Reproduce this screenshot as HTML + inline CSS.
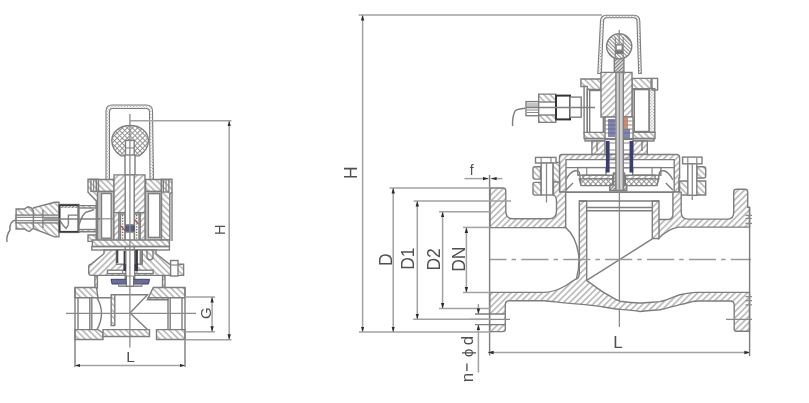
<!DOCTYPE html>
<html><head><meta charset="utf-8">
<style>
html,body{margin:0;padding:0;background:#fff;}
svg{display:block;will-change:transform;}
.o{stroke:#7e7e7e;stroke-width:1.4;fill:none;}
.of{stroke:#7e7e7e;stroke-width:1.4;}
.t{stroke:#8a8a8a;stroke-width:1.2;fill:none;}
.d{stroke:#a2a2a2;stroke-width:1.5;fill:none;}
.c{stroke:#8a8a8a;stroke-width:1.3;fill:none;}
.cd{stroke:#9a9a9a;stroke-width:1.5;fill:none;stroke-dasharray:27.2 5 4.5 5.2;stroke-dashoffset:10.6;}
text{font-family:"Liberation Sans",sans-serif;fill:#505050;}
</style></head>
<body>
<svg width="809" height="403" viewBox="0 0 809 403">
<defs>
<pattern id="hf" patternUnits="userSpaceOnUse" width="4.4" height="4.4" patternTransform="rotate(45)">
<rect width="4.4" height="4.4" fill="#fff"/><line x1="0.8" y1="0" x2="0.8" y2="4.4" stroke="#adadad" stroke-width="1.4"/></pattern>
<pattern id="hb" patternUnits="userSpaceOnUse" width="4.4" height="4.4" patternTransform="rotate(-45)">
<rect width="4.4" height="4.4" fill="#fff"/><line x1="0.8" y1="0" x2="0.8" y2="4.4" stroke="#adadad" stroke-width="1.4"/></pattern>
<pattern id="hx" patternUnits="userSpaceOnUse" width="3.6" height="3.6" patternTransform="rotate(45)">
<rect width="3.6" height="3.6" fill="#fff"/><line x1="0.5" y1="0" x2="0.5" y2="3.6" stroke="#8a8a8a" stroke-width="0.9"/><line x1="0" y1="0.5" x2="3.6" y2="0.5" stroke="#8a8a8a" stroke-width="0.9"/></pattern>
<pattern id="hd" patternUnits="userSpaceOnUse" width="2.2" height="2.2" patternTransform="rotate(45)">
<rect width="2.2" height="2.2" fill="#fff"/><rect x="0" y="0" width="1.1" height="1.1" fill="#999"/></pattern>
<pattern id="hs" patternUnits="userSpaceOnUse" width="2.5" height="2.5" patternTransform="rotate(45)">
<rect width="2.5" height="2.5" fill="#ddd"/><line x1="0.5" y1="0" x2="0.5" y2="2.5" stroke="#666" stroke-width="0.8"/></pattern>
<marker id="ah" viewBox="0 0 10 10" refX="10" refY="5" markerWidth="5.6" markerHeight="5.6" orient="auto-start-reverse" markerUnits="userSpaceOnUse">
<path d="M0,2 L10,5 L0,8 z" fill="#2a2a2a"/></marker>
<pattern id="hk" patternUnits="userSpaceOnUse" width="2.6" height="2.6" patternTransform="rotate(-45)">
<rect width="2.6" height="2.6" fill="#fff"/><line x1="0.5" y1="0" x2="0.5" y2="2.6" stroke="#888" stroke-width="1"/></pattern>
</defs>
<rect width="809" height="403" fill="#fff"/>
<g>

<!-- ================= LEFT VALVE ================= -->
<g id="lv">
<!-- hood -->
<path stroke="#7c7c7c" stroke-width="1.1" fill="url(#hd)" d="M106,180 L106,111 Q106,105 112,105 L146.5,105 Q152.5,105 152.5,111 L153.5,180 L150,180 L149.5,112 Q149.5,108.5 146,108.5 L112.5,108.5 Q109.5,108.5 109.5,112 L109.5,180 Z"/>
<!-- knob -->
<path class="of" fill="url(#hx)" d="M121.1,155.9 C115,152 111.8,146.5 111.8,140.5 C111.8,132 120,125.5 130.1,125.5 C140.2,125.5 148.4,132 148.4,140.5 C148.4,146.5 145,152 139.1,155.9 Z"/>
<rect class="of" fill="#fff" x="125.5" y="140.4" width="8.7" height="15.5"/>
<line class="t" x1="125.5" y1="147.9" x2="134.2" y2="147.9"/>
<!-- H extension & centre line -->
<line class="d" x1="130" y1="120.8" x2="231.5" y2="120.8"/>
<!-- stem -->
<rect class="of" fill="#fff" x="125" y="155" width="10" height="22"/>

<!-- housing -->
<path class="of" fill="url(#hb)" d="M88,179.3 H98.5 V192.2 L100,194 V241 H96.3 V201 L88,192.2 Z"/>
<path class="of" fill="url(#hb)" d="M98.5,179.5 H114 V191.5 H98.5 Z M145.6,179.5 H161.4 V191.5 H145.6 Z"/>
<path class="of" fill="url(#hb)" d="M161.4,179.3 H172 V192 L169.8,194 V240 H161.4 Z"/>
<line class="o" x1="172" y1="192" x2="172" y2="241"/>
<path class="of" fill="url(#hb)" d="M88,235 H96.3 V241.4 H88 Z"/>
<!-- coil cans -->
<rect class="of" fill="#c6c6c6" x="97.5" y="191.5" width="16.5" height="49.5"/>
<rect class="of" fill="#c6c6c6" x="145.2" y="191.5" width="16.2" height="49.5"/>
<!-- coils -->
<rect class="of" fill="#fff" x="101.5" y="193.5" width="9.7" height="44.7"/>
<rect class="of" fill="#fff" x="148.4" y="193.6" width="11.4" height="43.8"/>
<line class="t" x1="96" y1="218.8" x2="113" y2="218.8"/>
<!-- bolts -->
<rect class="o" fill="#fff" x="90.9" y="179.5" width="5.4" height="11.9"/>
<rect class="o" fill="#fff" x="163.3" y="179.7" width="5.6" height="12.3"/>
<line class="t" x1="93.6" y1="179.5" x2="93.6" y2="191.4"/>
<line class="t" x1="166.1" y1="179.7" x2="166.1" y2="192"/>
<!-- core -->
<path class="of" fill="url(#hf)" d="M114,174.9 H145 V212.6 H114 Z"/>
<!-- plunger tube -->
<path class="of" fill="url(#hf)" d="M113.9,212.6 H119.1 V241 H113.9 Z M140,212.6 H145 V241 H140 Z"/>
<rect class="of" fill="#fff" x="119.1" y="212.6" width="20.9" height="29"/>
<rect class="o" fill="url(#hs)" x="120.5" y="214" width="4.5" height="27"/>
<path stroke="#555" stroke-width="1.2" stroke-dasharray="1.2 1.6" d="M122.7,215 V241 M136.7,215 V241"/>
<rect class="o" fill="url(#hs)" x="134.5" y="214" width="4.5" height="27"/>
<rect x="125.8" y="224.6" width="8.2" height="7.4" fill="#5a5f8a" stroke="#333" stroke-width="0.6"/>
<path d="M134,219 L138.5,224 M121,226 L125.5,231" stroke="#b05050" stroke-width="1.2" fill="none"/>
<!-- stem full -->
<rect class="of" fill="#fff" x="125.2" y="174.9" width="9" height="50"/>
<rect class="of" fill="#fff" x="125.2" y="232" width="9" height="48"/>
<!-- bottom plate -->
<path class="of" fill="url(#hb)" d="M92.4,240 H169.4 V246.5 H92.4 Z"/>
<rect class="o" fill="#fff" x="91.8" y="246.5" width="77.6" height="3.5"/>
<!-- bonnet upper block -->
<path class="of" fill="url(#hf)" d="M104,250 H130 V275.4 H91.5 Q88.7,275.4 88.7,272.5 V267 Q88.7,264.2 91,264.2 L104,253.7 Z"/>
<path class="of" fill="url(#hb)" d="M130,250 H156 V253.7 L169.7,264.2 H183.6 V275.4 H130 Z"/>
<rect class="of" fill="#fff" x="116.4" y="250" width="25.9" height="14.2"/>
<rect x="116.4" y="250" width="1.9" height="13" fill="#444" stroke="none"/>
<rect x="123.6" y="251" width="2.2" height="20" fill="#3a3a44" stroke="none"/>
<rect x="134.7" y="250" width="3.2" height="21" fill="#3a3a44" stroke="none"/>
<rect x="139.6" y="250" width="2.7" height="14" fill="#888" stroke="none"/>
<path class="o" stroke-width="1.1" d="M147,250.5 V258 Q150,262 153,258 V250.5"/>
<!-- bonnet lower flange -->

<rect class="of" fill="#fff" x="107.5" y="270.2" width="45.7" height="3.4"/>
<line class="t" x1="122.6" y1="269.9" x2="122.6" y2="273.5"/>
<line class="t" x1="136.9" y1="269.9" x2="136.9" y2="273.5"/>
<rect class="of" fill="#fff" x="170.6" y="260.5" width="7.4" height="15.5"/>
<line class="t" x1="170.6" y1="265" x2="178" y2="265"/>
<rect class="of" fill="#fff" x="125.8" y="250" width="8.9" height="28"/>
<rect x="123.6" y="264" width="2.2" height="7" fill="#3a3a44" stroke="none"/>
<rect x="134.7" y="264" width="3.2" height="7" fill="#3a3a44" stroke="none"/>
<!-- neck -->
<path class="of" fill="url(#hf)" d="M94.9,276 H97.4 V288 H94.9 Z M162.5,276 H165 V288 H162.5 Z"/>
<!-- disc -->
<path d="M111,279.3 H149.5 L148.5,284 H112 Z" fill="#6a6d96" stroke="#3e4170" stroke-width="1"/>
<path d="M118.5,284 H142.1 V286.5 H118.5 Z" fill="#b4b4be" stroke="#777" stroke-width="0.8"/>
<rect x="126.5" y="276" width="7" height="10" fill="#fff" stroke="#555" stroke-width="0.7"/>

<!-- body -->
<path class="of" fill="url(#hb)" d="M75,287.5 H96.5 L98,297.8 H75 Z"/>
<path class="of" fill="url(#hb)" d="M153.3,287.5 H185 V297.8 H168 V299.8 H147.4 Z"/>
<path class="of" fill="url(#hb)" d="M75,329.6 H98 L103,333 V339.5 H75 Z"/>
<path class="of" fill="url(#hb)" d="M103,329.6 H149.5 V336.5 H103 Z"/>
<path class="of" fill="url(#hb)" d="M156.5,329.6 H185 V339.5 H156.5 Z"/>
<path class="of" fill="url(#hb)" d="M111.2,294.8 H114.8 V325.6 H111.2 Z"/>
<path class="o" d="M75,287.5 V367 M185,287.5 V367"/>
<path class="o" d="M78,297.8 V329.6 M89.8,297.8 V329.6 M91.8,297.8 V329.6"/>
<path class="o" d="M168,297.8 V329.6 M170.2,297.8 V329.6 M182,297.8 V329.6"/>
<path class="o" d="M97,297.8 Q106,313 97,329.6"/>
<path class="o" d="M114.8,294.8 H147.5 L130,313 L147.5,329.6"/>
<path class="o" d="M98,297.8 H111.2 M147.5,297.8 H168"/>

<!-- centre lines -->
<line class="c" x1="66" y1="313.3" x2="196" y2="313.3"/>
<line class="c" x1="129.9" y1="114" x2="129.9" y2="347.5"/>

<!-- connector -->
<path class="of" fill="url(#hb)" d="M16.1,209 H24.5 L27.9,206.7 L31,207.5 L32.3,210 L33.4,207.8 L54.6,202.3 H59 V236.9 H54.6 L33.4,228.5 L32.3,229 L29.5,231.5 L27,230.7 L24.5,229 H16.1 Z"/>
<rect class="of" fill="#fff" x="16.1" y="215.1" width="42.8" height="7.8"/>
<path class="t" d="M16.1,217.3 H59 M16.1,220.7 H59"/>
<path class="o" d="M42.9,210 V228 M33.4,210 V228"/>
<rect class="of" fill="#fff" x="59" y="204.5" width="20" height="27.9"/>
<path fill="url(#hs)" stroke="none" d="M60.5,205 H77.5 V208 H60.5 Z"/>
<rect x="59.7" y="205.2" width="18.6" height="26.5" fill="none" stroke="#3a3a3a" stroke-width="1.6"/>
<path class="of" fill="url(#hb)" d="M79,205.6 H96.3 V231.8 H79 Z"/>
<rect class="of" fill="#fff" x="79" y="208" width="17.3" height="21.5"/>
<path class="o" d="M68.4,224.6 V215.1 H79 M60,220.7 Q63,226 66.2,228.5 L68.4,224.6"/>
<path class="o" d="M79,225 Q83,212 87.4,211.7 Q91,211 94,209.5"/>
<line class="o" x1="44" y1="219" x2="100" y2="219"/>
<path class="o" d="M16.5,219.8 Q9,221 10,230 Q6,236 7,242"/>

<!-- dims -->
<line class="d" x1="229.2" y1="120.8" x2="229.2" y2="339.8" marker-start="url(#ah)" marker-end="url(#ah)"/>
<line class="d" x1="185" y1="339.8" x2="231.5" y2="339.8"/>
<line class="d" x1="185" y1="297" x2="215" y2="297"/>
<line class="d" x1="185" y1="331.8" x2="215" y2="331.8"/>
<line class="d" x1="212.1" y1="297" x2="212.1" y2="331.8" marker-start="url(#ah)" marker-end="url(#ah)"/>
<line class="d" x1="74.7" y1="365.5" x2="185.4" y2="365.5" marker-start="url(#ah)" marker-end="url(#ah)"/>
<text transform="translate(225.4,229.8) rotate(-90)" font-size="14.5" text-anchor="middle">H</text>
<text transform="translate(211.2,313.2) rotate(-90)" font-size="15" text-anchor="middle">G</text>
<text x="130.5" y="362" font-size="15.5" text-anchor="middle">L</text>
</g>

<!-- ================= RIGHT VALVE ================= -->
<g id="rv">
<!-- hood -->
<path stroke="#7c7c7c" stroke-width="1.1" fill="url(#hd)" d="M597.8,73.5 L600.5,21 Q601,15.2 606,15.2 L634,15.2 Q639.5,15.2 639.8,21 L641.3,73.5 L638.7,73.5 L637,21.5 Q637,17.8 633.5,17.8 L607,17.8 Q603.6,17.8 603.5,21.5 L601.3,73.5 Z"/>
<line class="d" x1="358.6" y1="15" x2="602" y2="15"/>
<!-- stem upper -->
<rect class="of" fill="url(#hs)" x="614.3" y="50" width="9.6" height="25"/>
<circle class="of" fill="url(#hk)" cx="619.2" cy="46.3" r="12.6"/>
<path class="t" d="M615.3,37 V59 M623.2,37 V59"/>
<rect x="615.3" y="50.8" width="7.9" height="3.1" fill="#777" stroke="none"/>
<rect class="of" stroke-width="1" fill="#fff" x="616.1" y="44.8" width="6.2" height="5.4"/>
<line class="c" x1="619.2" y1="30" x2="619.2" y2="45"/>

<!-- housing -->
<path class="of" fill="url(#hb)" d="M580.9,79 H601 V89.5 H587.3 L584.1,86.5 H580.9 Z"/>
<path class="of" fill="url(#hb)" d="M632,78.4 H651.1 V88.6 H632 Z"/>
<rect class="of" fill="#fff" x="584.1" y="86.5" width="3.2" height="46.7"/>
<rect class="of" fill="#fff" x="587.3" y="89.5" width="2.4" height="43.7"/>
<rect class="of" fill="#fff" x="589.7" y="90.5" width="13.8" height="42.7"/>
<rect class="of" fill="#fff" x="634.3" y="89.6" width="14.9" height="41.9"/>
<rect class="of" fill="url(#hd)" x="649.2" y="88.6" width="5.6" height="43.8"/>
<rect class="of" fill="#d4d4d4" x="603.5" y="89.5" width="2" height="43"/>
<rect class="of" fill="#d4d4d4" x="632" y="89.5" width="2.3" height="43"/>
<rect class="o" fill="#fff" x="652" y="78.4" width="5.6" height="11.6"/>
<path class="of" fill="url(#hb)" d="M584.1,132.4 H655 V138.5 H584.1 Z"/>
<!-- core -->
<path class="of" fill="url(#hf)" d="M601,72.4 H632 V117 H601 Z"/>
<!-- plunger -->
<rect class="of" fill="#fff" x="605" y="117" width="28" height="22"/>
<path class="t" d="M605,121 H633 M605,125 H633 M605,129 H633 M605,133 H633"/>
<rect x="621" y="117" width="7" height="12" fill="#c47a5a" stroke="none" opacity="0.85"/>
<rect x="608" y="119" width="7" height="18" fill="#5a5e96" stroke="none" opacity="0.75"/>
<rect x="624" y="129" width="6" height="10" fill="#5a5e96" stroke="none" opacity="0.75"/>
<!-- neck -->
<rect class="of" fill="#d8d8d8" x="585" y="138.6" width="69" height="2.4"/>
<path class="of" fill="url(#hf)" d="M591.9,141 H647.3 V154.5 H591.9 Z"/>
<rect class="of" fill="#fff" x="605" y="139.4" width="28" height="34"/>
<path class="t" d="M609.6,143 H629.5 M609.6,150 H629.5 M609.6,154 H629.5"/>

<!-- bonnet -->
<path class="of" fill="url(#hf)" d="M562,154.5 H676.5 Q679.6,154.5 679.6,157.5 V178 H678.9 V192.1 H559.5 V157 Q559.5,154.5 562,154.5 Z"/>
<path class="of" fill="#fff" d="M566,159.6 H674.2 V192.1 H566 Z"/>
<line class="o" x1="566" y1="167.6" x2="674.2" y2="167.6"/>
<!-- diaphragm -->
<rect class="of" fill="#fff" x="577.8" y="167.6" width="28.2" height="7.6"/>
<rect class="of" fill="#fff" x="632.7" y="167.6" width="28.2" height="7.6"/>
<line class="t" x1="586.7" y1="167.6" x2="586.7" y2="175.2"/>
<line class="t" x1="652.1" y1="167.6" x2="652.1" y2="175.2"/>
<path class="of" fill="url(#hf)" d="M583,175.2 H612.7 V178.9 H583 Z M625.3,175.2 H655 V178.9 H625.3 Z"/>
<path class="of" fill="url(#hx)" d="M579.3,178.9 H612.7 V185.6 H581 Z M625.3,178.9 H658.7 L657,185.6 H625.3 Z"/>
<path class="o" d="M566,179.7 Q570,172 574.8,170.8 Q578.5,170.5 579.3,172.3 L580.8,181.9"/>
<path class="o" d="M672.8,179.7 Q668.8,172 664,170.8 Q660.3,170.5 659.5,172.3 L658,181.9"/>
<path class="o" d="M566,190 L573,183 M672.8,190 L665.8,183"/>
<!-- central guide -->
<rect x="605.9" y="141" width="3.7" height="31.5" fill="#3a3d6e" stroke="none"/>
<rect x="629.5" y="141" width="3.7" height="31.5" fill="#3a3d6e" stroke="none"/>
<path class="t" d="M609.6,158 H629.5 M609.6,163 H629.5 M609.6,168 H629.5"/>
<path class="o" d="M597,141 V151 M642,141 V151"/>
<path class="of" fill="url(#hs)" d="M609.7,185 H613.4 V173 H624.5 V185 H626.8 V190.5 H609.7 Z"/>
<line class="o" x1="559.5" y1="192.1" x2="680" y2="192.1"/>
<!-- stem -->
<rect class="of" fill="#d0d0d0" x="615.9" y="72.4" width="7.4" height="118"/>
<line class="c" x1="619.4" y1="72" x2="619.4" y2="327"/>

<!-- bolts left -->
<path class="of" fill="url(#hb)" d="M535,166.7 H540.5 V179.1 H535 Q533,179.1 533,177 V168.7 Q533,166.7 535,166.7 Z"/>
<path class="of" fill="url(#hb)" d="M535,182.4 H541.2 V195.1 H535 Q533,195.1 533,193 V184.4 Q533,182.4 535,182.4 Z"/>
<path class="of" fill="url(#hb)" d="M552.9,162.4 H559.5 V192.1 H552.9 Z"/>
<rect class="of" fill="#fff" x="535.5" y="157.4" width="20.5" height="5.6"/>
<line class="t" x1="541.1" y1="157.4" x2="541.1" y2="163"/>
<line class="t" x1="551" y1="157.4" x2="551" y2="163"/>
<rect class="of" fill="#fff" x="541.2" y="163" width="11.7" height="32"/>
<line class="c" x1="546.5" y1="163" x2="546.5" y2="202.5"/>
<!-- bolts right -->
<path class="of" fill="url(#hb)" d="M696.8,166.8 H703.7 Q705.7,166.8 705.7,168.8 V176 Q705.7,178 703.7,178 H696.8 Z"/>
<path class="of" fill="url(#hb)" d="M679.6,181 H705.7 V195 H679.6 Z"/>
<rect class="of" fill="#fff" x="682.6" y="157.1" width="19.4" height="6.7"/>
<line class="t" x1="687.8" y1="157.1" x2="687.8" y2="163.8"/>
<line class="t" x1="696.8" y1="157.1" x2="696.8" y2="163.8"/>
<rect class="of" fill="#fff" x="687.8" y="163.8" width="9" height="31.5"/>
<line class="c" x1="692.3" y1="163.8" x2="692.3" y2="200"/>

<!-- body upper-left: flange + pipe wall + neck wall -->
<path class="of" fill="url(#hf)" d="M490,188 H503 Q505.8,188 505.8,191 V211 Q505.8,218.8 513,218.8 H549 Q556.5,218.8 556.5,211 V202 Q556.5,195.5 553.5,195.1 V182 H559.5 V192.1 H565.7 V227.6 H490 Z"/>
<!-- body upper-right: neck wall + pipe wall + flange -->
<path class="of" fill="url(#hf)" d="M672.9,192.1 H681.2 V212 Q681.2,219.1 688,219.1 H728 Q733.7,219.1 733.7,212 V192 Q733.7,189.3 736.5,189.3 H745 Q747.7,189.3 747.7,192 V207.3 H749.5 V227.1 H678 Q668,229 658.5,238.5 V219.5 H668 Q672.9,219.5 672.9,214 Z"/>
<!-- seat + bottom wall -->
<path class="of" fill="url(#hf)" d="M489.6,292.4 H544.5 C552,292 560,289 565,286 C570,283 574,279.5 577.5,278.5 Q579.3,277 579.3,272 V201 H586.7 V280.4 C592,284 600,291 610,296 C614,298.5 617,300.5 620,301.2 C628,302.5 635,303 640,303 C645,303 650,302.4 660,301.6 C668,300 675,296 680,294.8 C685,293.5 690,292.8 695,292.4 H749.5 V331.3 H736.2 Q734.2,331.3 734.2,329 V305 Q734.2,301 730,301 H700 C695,301 692,301.5 690,302.2 C685,303.5 676,305.5 672,306.6 C667,308 662,309.5 660,309.7 C655,310 650,310.3 640,311.5 C633,310.5 625,309.8 619.5,309.3 C612,308.5 605,307.2 600,306.4 C590,305 580,304 570,303.4 C560,302.5 550,301.2 544.5,300.8 H509 Q505.3,301 505.3,305 V329 Q505.3,331.6 502.7,331.6 H489.6 Z"/>
<path class="of" fill="url(#hf)" d="M652.3,201 H659 V238.5 H652.3 Z"/>
<path class="o" d="M579.3,201 H659 M586.7,207.5 H652.3 M586.7,210.7 H652.3"/>
<!-- partition diagonal -->
<line class="o" x1="586.3" y1="280.6" x2="652.3" y2="238.9"/>
<!-- left inner curve -->
<path class="o" d="M565.7,227.6 Q576,236 578.6,254.5 Q579.8,268 576.5,278.3"/>
<!-- bolt holes -->
<rect fill="#fff" stroke="none" x="490.5" y="314" width="13.6" height="10.6"/>

<path class="o" d="M475,314 H505 M475,324.6 H505"/>
<line class="c" x1="470" y1="319.3" x2="510" y2="319.3"/>
<line class="c" x1="726" y1="319.4" x2="752" y2="319.4"/>

<!-- centre line -->
<line class="cd" x1="490" y1="259.5" x2="751" y2="259.5"/>
<line class="o" x1="489.6" y1="175" x2="489.6" y2="355.5"/>
<line class="o" x1="749.6" y1="207" x2="749.6" y2="356"/>
<!-- ticks -->
<path class="t" d="M745.5,215.4 H752 M745.5,218.5 H752 M745.5,223.4 H752 M745.5,296.6 H752 M745.5,300.7 H752 M745.5,304.8 H752"/>

<!-- dims -->
<line class="d" x1="362.6" y1="15" x2="362.6" y2="332.1" marker-start="url(#ah)" marker-end="url(#ah)"/>
<line class="d" x1="389.6" y1="188" x2="490" y2="188"/>
<line class="d" x1="358.9" y1="332.1" x2="490" y2="332.1"/>
<line class="d" x1="393.2" y1="188" x2="393.2" y2="332.1" marker-start="url(#ah)" marker-end="url(#ah)"/>
<line class="d" x1="413.7" y1="201" x2="511" y2="201"/>
<line class="d" x1="413.2" y1="319.3" x2="490" y2="319.3"/>
<line class="d" x1="417.3" y1="201" x2="417.3" y2="319.3" marker-start="url(#ah)" marker-end="url(#ah)"/>
<line class="d" x1="439" y1="211.7" x2="490" y2="211.7"/>
<line class="d" x1="439" y1="308.6" x2="490" y2="308.6"/>
<line class="d" x1="442.6" y1="211.7" x2="442.6" y2="308.6" marker-start="url(#ah)" marker-end="url(#ah)"/>
<line class="d" x1="463" y1="227.4" x2="490" y2="227.4"/>
<line class="d" x1="463" y1="292.5" x2="490" y2="292.5"/>
<line class="d" x1="466.4" y1="227.4" x2="466.4" y2="292.5" marker-start="url(#ah)" marker-end="url(#ah)"/>
<!-- f -->
<line class="d" x1="464.5" y1="178.6" x2="488.5" y2="178.6" marker-end="url(#ah)"/>
<line class="d" x1="502.4" y1="178.6" x2="491" y2="178.6" marker-end="url(#ah)"/>
<!-- n-phi d -->
<line class="d" x1="478.4" y1="303.9" x2="478.4" y2="314" marker-end="url(#ah)"/>
<line class="d" x1="478.4" y1="372.5" x2="478.4" y2="324.6" marker-end="url(#ah)"/>
<!-- L -->
<line class="d" x1="488" y1="352.5" x2="750" y2="352.5" marker-start="url(#ah)" marker-end="url(#ah)"/>

<text transform="translate(357,172.6) rotate(-90)" font-size="17.5" text-anchor="middle">H</text>
<text transform="translate(392,259.8) rotate(-90)" font-size="17.5" text-anchor="middle">D</text>
<text transform="translate(414,258.6) rotate(-90)" font-size="17.5" text-anchor="middle">D1</text>
<text transform="translate(440,259.4) rotate(-90)" font-size="17.5" text-anchor="middle">D2</text>
<text transform="translate(464.5,259.2) rotate(-90)" font-size="17.5" text-anchor="middle">DN</text>
<text x="471.8" y="174.8" font-size="14" text-anchor="middle">f</text>
<text transform="translate(472.9,340.6) rotate(-90)" font-size="17" text-anchor="middle">d</text>
<text transform="translate(472.9,352.9) rotate(-90)" font-size="15" text-anchor="middle">ϕ</text>
<line x1="466.9" y1="363.4" x2="466.9" y2="370.9" stroke="#4a4a4a" stroke-width="1.3"/>
<text transform="translate(472.9,377.5) rotate(-90)" font-size="17" text-anchor="middle">n</text>
<text x="618" y="347.6" font-size="17" text-anchor="middle">L</text>

<!-- right connector -->
<rect class="of" fill="#fff" x="526" y="101.6" width="12.7" height="14.1"/>
<path class="t" d="M527,104 H538 M527,106 H538 M527,110 H538 M527,112.5 H538"/>
<path class="of" fill="url(#hb)" d="M538.7,94.1 H555.8 V122.4 H538.7 Z"/>
<rect class="of" fill="#fff" x="538.7" y="102" width="17" height="13"/>
<rect x="556" y="95.6" width="14" height="23.8" fill="#fff" stroke="#333" stroke-width="2"/>
<rect class="of" fill="#fff" x="570" y="97.1" width="11.2" height="20.1"/>
<line class="o" x1="526" y1="107.5" x2="595" y2="107.5"/>
<path class="o" d="M525.3,108.3 Q516,109 514.9,111.3 Q512,118 512.6,126.1"/>
</g>
</g>
</svg>
</body></html>
